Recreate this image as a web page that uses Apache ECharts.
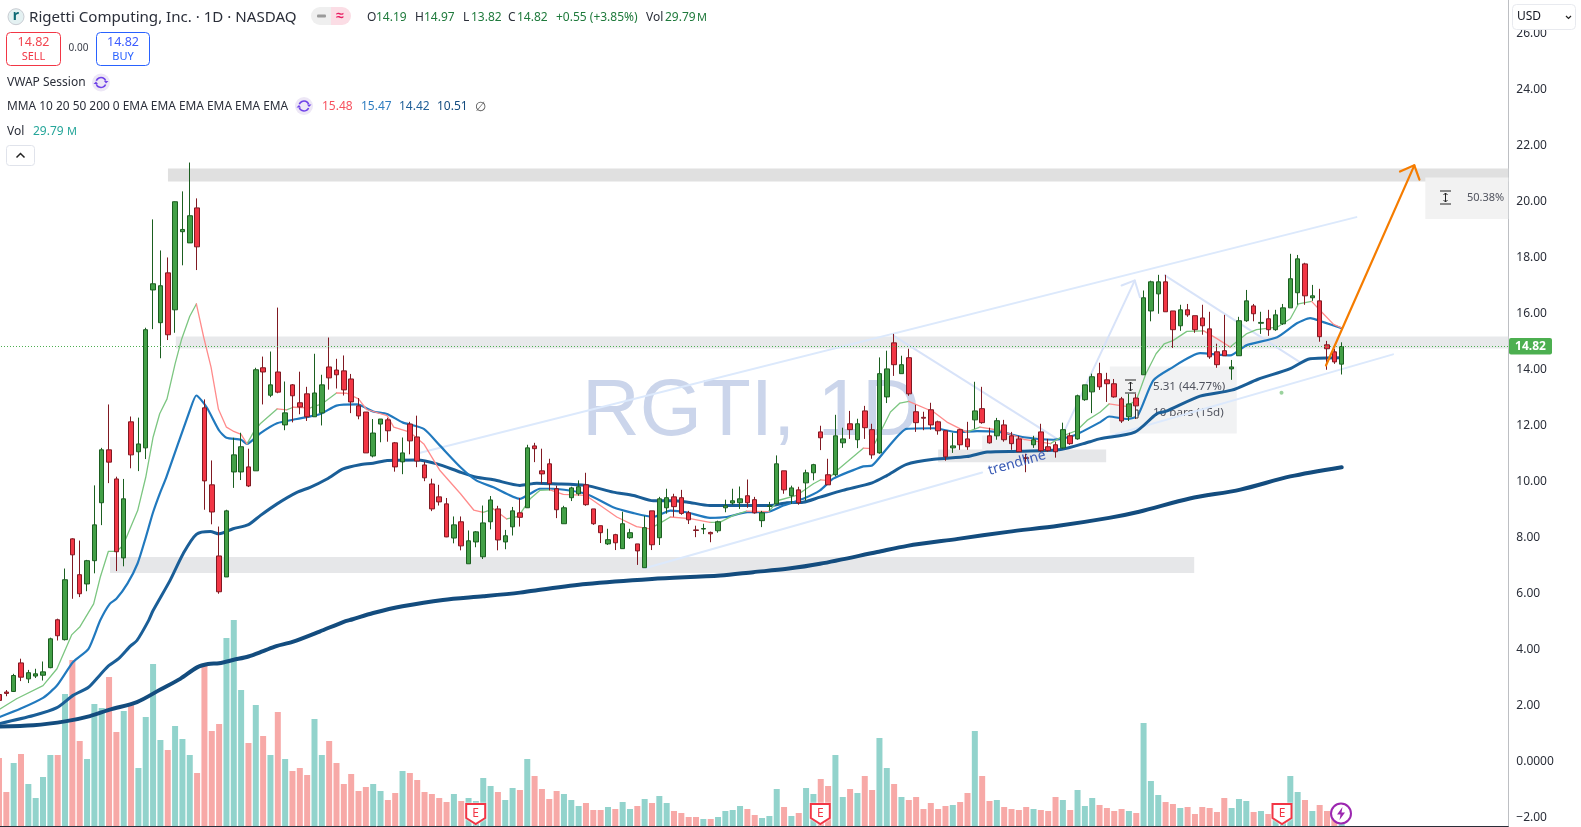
<!DOCTYPE html>
<html><head><meta charset="utf-8">
<style>html,body{margin:0;padding:0;background:#fff;overflow:hidden}#c{width:1581px;height:827px}</style>
<script src="https://cdn.jsdelivr.net/npm/echarts@6/dist/echarts.min.js"></script>
</head><body><div id="c"></div>
<script>
// Daily candles, index 0..183
const opens=[2.39,2.48,2.50,3.52,2.95,3.05,3.08,3.35,5.06,4.35,
7.95,6.67,6.34,7.17,9.24,11.13,10.09,7.27,12.13,11.06,
11.20,16.84,15.67,17.45,16.13,18.92,18.52,19.77,12.63,9.88,
7.34,6.59,10.34,10.34,10.52,10.38,14.06,13.08,13.91,12.02,
13.45,12.81,13.13,12.31,12.45,14.09,13.98,13.95,13.66,12.70,
12.48,10.91,12.05,12.20,11.38,10.70,12.05,11.59,10.59,9.91,
9.45,9.20,7.98,8.56,7.06,7.84,7.31,8.56,9.02,7.84,
8.38,8.88,9.06,11.27,10.38,10.63,9.74,8.49,9.42,9.56,
9.88,9.02,8.42,7.77,8.10,7.60,7.99,7.77,6.92,8.95,
7.99,9.06,9.45,9.42,8.88,8.27,8.30,8.18,8.24,9.06,
9.23,9.24,9.49,9.35,8.60,9.11,9.20,10.38,9.49,9.70,
9.95,10.31,11.77,10.24,10.24,11.38,12.06,11.49,12.52,11.85,
11.02,13.02,14.95,13.85,14.42,12.49,12.29,12.56,12.13,11.81,
11.20,11.85,11.52,12.20,12.60,11.63,11.63,12.02,11.63,11.52,
10.85,11.31,11.77,11.24,11.31,11.20,11.63,11.52,12.92,13.20,
13.85,13.63,13.49,12.95,12.31,12.98,13.81,16.09,16.70,17.13,
16.09,15.56,16.13,15.92,15.84,15.45,14.63,14.67,14.02,14.49,
15.74,16.27,15.65,15.81,15.42,15.63,16.20,16.74,17.77,16.56,
16.45,14.88,14.63,14.19];
const highs=[2.45,2.55,3.13,3.67,3.27,3.31,3.57,4.42,5.10,6.89,
7.97,7.89,7.20,9.86,11.20,12.75,10.17,10.09,12.32,12.28,
15.49,19.36,18.25,18.00,20.00,20.36,21.39,20.11,12.93,10.75,
8.39,8.99,11.56,11.74,11.17,14.06,14.46,14.64,16.21,13.57,
13.48,13.92,13.38,14.56,13.81,15.14,14.38,14.50,13.84,12.98,
12.48,12.23,12.23,12.27,11.41,11.57,12.13,12.35,10.70,10.10,
9.88,9.41,8.75,8.75,8.25,8.23,9.14,9.48,9.13,8.27,
9.09,9.41,11.31,11.38,11.17,10.81,9.85,9.13,9.81,10.04,
10.31,9.02,8.42,8.31,8.13,8.92,8.31,7.77,8.77,8.95,
9.45,9.74,9.56,9.70,8.95,8.42,8.49,8.21,8.60,9.35,
9.74,9.82,10.07,9.45,8.95,9.27,10.93,10.38,9.85,9.81,
10.42,10.63,11.99,10.81,12.38,11.92,12.52,12.24,12.70,12.06,
14.43,14.67,15.27,14.49,14.74,12.74,12.49,12.81,12.17,11.81,
11.74,11.88,12.13,13.56,13.38,11.92,12.27,12.20,11.77,11.63,
10.99,11.63,12.06,11.52,11.42,12.10,11.74,13.10,13.45,13.85,
14.24,13.88,13.66,13.02,13.13,13.13,16.82,17.17,17.38,17.38,
16.09,16.31,16.34,15.92,16.31,16.06,14.92,15.95,14.34,15.88,
16.84,16.34,16.06,16.13,16.13,16.34,18.13,18.09,17.81,17.02,
16.88,15.02,14.74,14.97];
const lows=[2.10,2.33,2.48,2.87,2.80,2.98,2.89,3.33,4.32,4.32,
5.81,5.87,6.08,6.72,8.44,9.94,6.80,6.97,10.47,10.37,
10.80,15.44,14.40,15.05,15.31,17.72,18.52,17.55,8.99,8.47,
5.99,6.59,9.77,10.05,9.80,10.38,12.75,13.01,13.15,11.83,
12.11,12.40,12.16,12.31,12.00,13.28,13.32,13.07,12.44,12.22,
11.02,10.86,11.40,11.42,10.35,10.26,10.97,10.51,10.01,8.94,
9.14,8.01,7.79,7.54,7.06,7.65,7.23,8.29,7.54,7.58,
8.07,8.39,9.06,10.69,9.92,9.68,8.69,8.49,9.30,9.49,
9.13,8.45,7.80,7.73,7.55,7.60,7.95,7.02,6.92,7.55,
7.73,8.85,8.74,8.81,8.48,8.01,8.12,7.83,8.17,8.90,
9.17,9.02,9.06,8.85,8.37,8.96,9.20,9.56,9.20,9.17,
9.32,10.04,11.12,9.88,10.18,11.20,11.52,11.19,11.52,10.81,
10.99,12.80,13.77,13.85,13.06,11.77,11.83,11.85,11.67,10.74,
11.02,11.13,11.13,11.88,12.06,11.35,11.49,11.42,11.13,11.06,
10.33,11.20,11.06,11.06,10.85,11.17,11.31,11.49,12.88,12.44,
13.27,12.84,12.99,12.09,12.16,12.23,13.81,15.72,15.99,16.06,
14.77,15.38,15.88,15.31,15.24,14.38,14.06,14.49,13.63,14.49,
15.70,15.72,15.27,15.20,15.38,15.59,16.20,16.31,16.31,16.45,
14.99,13.99,14.20,13.82];
const closes=[2.18,2.43,3.07,3.01,3.17,3.13,3.20,4.38,4.49,6.49,
7.38,5.99,7.17,8.45,11.13,10.69,7.49,9.38,10.95,11.34,
15.42,17.06,16.99,15.24,19.99,19.00,19.49,18.38,10.02,8.91,
6.06,8.95,10.95,11.24,9.84,13.99,13.91,13.45,13.19,12.45,
13.06,12.66,12.31,13.16,13.45,13.70,13.81,13.27,12.84,12.34,
11.02,11.73,12.23,11.81,10.52,11.02,11.45,10.73,10.13,9.02,
9.27,8.02,8.45,7.70,7.88,8.20,8.52,9.34,7.91,8.06,
8.95,8.72,11.20,11.17,10.27,9.92,8.99,9.06,9.77,9.81,
9.17,8.49,8.17,7.92,7.81,8.49,8.17,7.52,8.35,7.74,
9.38,9.42,9.10,8.86,8.63,8.25,8.32,8.13,8.56,9.13,
9.31,9.38,9.24,8.88,8.88,9.13,10.63,9.70,9.77,9.24,
10.31,10.60,11.56,9.88,11.63,11.52,11.85,12.06,11.92,10.95,
13.85,14.02,14.17,14.17,13.13,12.10,12.26,12.02,11.81,10.88,
11.27,11.31,11.24,12.52,12.10,11.38,12.17,11.49,11.35,11.06,
10.82,11.49,11.10,11.10,11.06,11.85,11.35,13.06,13.45,13.74,
13.38,13.49,13.02,12.16,12.77,12.70,16.56,17.13,17.13,16.06,
15.42,16.13,15.95,15.42,15.56,14.45,14.17,14.49,14.09,15.74,
16.45,15.99,15.68,15.42,15.95,16.20,17.24,17.95,16.63,16.63,
15.17,14.74,14.27,14.82];
// Volume in millions
const volumes=[136,68,126,144,84,56,98,142,142,264,
332,170,134,244,236,298,188,230,242,116,
218,324,172,152,200,174,142,106,320,190,
204,376,412,272,166,242,180,142,228,134,
110,116,102,214,142,170,126,84,104,70,
78,84,70,52,66,110,106,92,68,64,
56,48,64,50,56,50,96,80,68,52,
76,72,134,100,74,54,70,64,52,40,
46,32,32,38,34,48,34,40,54,46,
60,46,30,26,18,18,14,14,18,30,
32,40,34,22,16,20,74,38,20,26,
76,64,94,80,142,58,74,66,100,72,
176,116,84,58,52,58,34,46,34,40,
42,48,66,190,100,50,52,38,34,32,
38,34,32,30,58,52,32,72,40,56,
42,36,30,34,30,26,206,90,62,48,
44,36,38,24,38,36,28,56,36,54,
50,28,30,24,32,44,100,68,52,30,
42,30,24,29.79];
// Moving-average readings: [bar index, price]
const ma10Points=[[0,1.85],[2.4,2.24],[6,2.71],[7.9,3.31],[9.9,4.52],[11,4.80],[12.9,5.63],[13.8,6.58],[14.9,7.50],[16,7.50],[16.9,7.71],[18.9,8.96],[20,10.15],[21,11.58],[21.9,12.42],[22.9,12.95],[24,14.20],[24.9,15.09],[26,15.90],[26.9,16.34],[27.9,15.15],[28.9,14.08],[29.9,12.59],[31,11.94],[31.9,11.80],[33,11.68],[33.8,11.34],[34.7,11.76],[35.6,12.06],[37.9,12.59],[39.2,12.56],[40.1,12.65],[42.4,12.63],[44,12.77],[46,13.16],[47.4,13.15],[49,12.95],[50.1,12.57],[52.9,12.35],[53.8,11.94],[56,11.76],[57.9,11.34],[60.1,10.39],[62.9,9.56],[64.7,8.98],[66,8.90],[67.4,9.02],[69.2,8.66],[70.8,8.75],[72.4,9.38],[73.7,9.68],[75.1,9.70],[76.9,9.54],[80,9.50],[84.2,8.73],[86.9,8.39],[88.7,8.31],[90.1,8.51],[91.5,8.73],[94.2,8.67],[96.9,8.54],[98.3,8.55],[100.1,8.79],[101.9,8.94],[104.9,8.92],[106.2,9.32],[108.7,9.50],[111,9.92],[112,10.06],[112.8,10.04],[114.2,10.39],[117.8,11.19],[119,11.17],[121.5,12.48],[122.8,12.80],[124,12.86],[127.4,12.48],[129.2,12.12],[131.9,11.76],[133.7,11.94],[136.5,11.82],[139.7,11.50],[143.3,11.35],[145.1,11.64],[146.9,11.82],[148.3,12.18],[150.1,12.48],[151.3,12.77],[153.6,12.68],[155,12.89],[156.3,13.84],[157.7,14.56],[158.8,14.91],[160,15.03],[161.9,15.36],[164.2,15.38],[166,15.10],[167.8,14.80],[170,15.27],[171.4,15.42],[174.2,15.51],[176,15.81],[177.1,16.34],[178.9,16.43],[180.5,15.99],[181.9,15.61],[183,15.48]];
const ma20Points=[[0,1.58],[2.9,1.88],[6,2.27],[7.9,2.71],[10.1,3.55],[12.2,4.02],[13.8,5.04],[15.1,5.63],[16,5.81],[17.5,6.35],[18.9,7.08],[20,8.00],[21,8.90],[21.9,9.56],[22.8,10.15],[26,12.53],[26.9,13.07],[28.3,12.65],[30,11.82],[31,11.56],[33,11.49],[33.8,11.34],[35.6,11.72],[37.9,12.08],[40.6,12.23],[43.8,12.41],[46,12.71],[48.8,12.75],[51,12.50],[52.9,12.41],[55,12.11],[57.9,11.88],[60.1,11.28],[62.9,10.51],[65.1,10.03],[67.4,9.79],[71,9.38],[72.4,9.56],[73.7,9.74],[75.5,9.74],[80,9.56],[83.7,9.08],[86.5,8.87],[89.2,8.73],[91.5,8.96],[93.7,8.90],[96.9,8.70],[99.2,8.73],[102,8.90],[104.6,8.90],[106.9,9.14],[109.6,9.38],[111.9,9.68],[113.7,10.10],[117.8,10.54],[119,10.57],[121,11.17],[123.7,11.88],[127.4,11.90],[130.6,11.76],[133.3,11.80],[136.5,11.76],[139.7,11.58],[143.7,11.49],[146.5,11.64],[150.1,12.12],[151.3,12.32],[153.8,12.23],[155.2,12.35],[157.3,13.60],[159.6,14.02],[163.7,14.58],[167.8,14.50],[170,14.86],[174.2,15.15],[176.9,15.65],[178.7,15.83],[180.5,15.69],[183,15.47]];
const ma50Points=[[0,1.35],[4.7,1.64],[7.9,1.92],[10.1,2.36],[12.2,2.65],[13.8,3.10],[15,3.43],[16.3,3.67],[17.9,4.12],[18.8,4.32],[20.4,5.04],[21,5.39],[23.3,6.46],[25.1,7.42],[26.9,8.11],[28.8,8.21],[30,8.13],[31.9,8.31],[34,8.46],[35.6,8.78],[37.9,9.20],[40.6,9.61],[42.4,9.79],[44.7,10.09],[46.9,10.45],[49.2,10.60],[51,10.65],[52.9,10.75],[57,10.77],[59.7,10.63],[62.9,10.33],[65.1,10.15],[67.4,10.06],[71,9.86],[73.3,9.94],[75.5,9.92],[80,9.86],[83.7,9.62],[86.5,9.50],[89.2,9.31],[91.5,9.31],[93.7,9.27],[96.9,9.14],[100.5,9.14],[105,9.14],[107.4,9.24],[109.6,9.26],[111.9,9.44],[115,9.68],[119,9.95],[121,10.21],[123.7,10.61],[127.4,10.79],[131.9,10.89],[134.7,11.05],[139.2,11.08],[144.7,11.14],[148.7,11.42],[150,11.52],[154.8,11.76],[157.8,12.42],[159,12.50],[163.7,13.05],[168,13.26],[171.6,13.65],[175.9,14.02],[178.7,14.38],[183,14.42]];
const ma200Points=[[0,1.25],[4.7,1.29],[9.2,1.44],[12.4,1.62],[15.1,1.85],[18.8,2.12],[22,2.57],[24.7,2.95],[27,3.36],[28.5,3.48],[30,3.51],[32,3.63],[34,3.75],[36,3.94],[37.8,4.12],[40,4.27],[43.7,4.64],[46.9,4.98],[48.2,5.08],[51,5.30],[55,5.54],[60.5,5.77],[66,5.90],[71,6.03],[72.8,6.10],[80,6.34],[89,6.52],[98.3,6.64],[102.8,6.76],[107.4,6.88],[111.9,7.06],[119.7,7.48],[123.8,7.70],[130.7,7.95],[137.5,8.20],[144.4,8.42],[151.3,8.70],[155.4,8.92],[162.3,9.39],[169.2,9.71],[176,10.18],[183,10.51]];
// Drawings, in [bar index, price]
const channelUpper=[[57,11.0],[185,19.44]];
const channelLowerA=[[87.9,6.89],[134,10.32]];
const channelLowerB=[[143,10.99],[190,14.54]];
const zigzagUp=[[121.9,15.21],[144.6,11.46],[154.8,17.18]];
const zigzagHead=[[153,17.0],[154.8,17.18],[155.5,16.58]];
const zigzagDown=[[158.9,17.36],[177.3,14.26]];
const targetArrow=[[180.86,14.14],[192.9,21.29]];
const targetHead=[[190.95,21.07],[192.9,21.29],[193.6,20.78]];
const noteDot=[[174.8,13.17]];
// Shaded zones: [from bar, top price, to bar, bottom price, colour]
const zones=[[23.03,21.18,205.71,20.71,'#E0E0E0'],[24.1,15.18,205.71,14.75,'#E8E9EB'],[15.13,7.30,162.9,6.73,'#E6E7E9'],
[128,11.14,150.9,10.69,'#E6E7E9'],[134,11.64,141.9,11.14,'#F0F1F3'],[151.4,14.11,168.7,11.71,'#F1F2F3'],[194.4,20.86,205.71,19.37,'#F2F2F2']];
const priceTicks=[-2,0,2,4,6,8,10,12,14,16,18,20,22,24,26];
const lastPrice=14.82;

const UI='"Noto Sans",sans-serif';
const candleData=opens.map((o,i)=>[i,o,closes[i],lows[i],highs[i]]);
const volData=volumes.map((v,i)=>({value:[i,v],itemStyle:{color:closes[i]>=opens[i]?'#92D3CC':'#F7A9A7'}}));
const ma10Up=[],ma10Down=[];
for(let k=0;k<ma10Points.length-1;k++){
  const a=ma10Points[k],b=ma10Points[k+1],t=b[1]>=a[1]?ma10Up:ma10Down;
  t.push(a,b,[b[0],'-']);
}
const X0=-0.5452,X1=205.71;
function line(data,color,width,z,extra){return Object.assign({type:'line',data,xAxisIndex:0,yAxisIndex:0,showSymbol:false,symbol:'none',silent:true,z,lineStyle:{color,width,cap:'round',join:'round'},connectNulls:false},extra||{});}
function T(x,y,text,o){o=o||{};return {type:'text',z:o.z||100,x,y:y+1,silent:true,style:{text,fill:o.c||'#2A2E39',font:(o.w||'normal')+' '+(o.s||12)+'px '+(o.f||UI),textAlign:o.a||'left',textVerticalAlign:'middle'}};}
function R(x,y,w,h,o){return {type:'rect',z:o.z||100,silent:true,shape:{x,y,width:w,height:h,r:o.r||0},style:{fill:o.fill||'transparent',stroke:o.stroke,lineWidth:o.lw||1}};}
function L(x1,y1,x2,y2,c,lw,z){return {type:'line',z:z||100,silent:true,shape:{x1,y1,x2,y2},style:{stroke:c,lineWidth:lw||1}};}
function sync(cx,cy){return [
 {type:'circle',z:100,silent:true,shape:{cx,cy,r:9},style:{fill:'#EDE7F6'}},
 {type:'arc',z:101,silent:true,shape:{cx,cy,r:5,startAngle:3.5,endAngle:5.9},style:{stroke:'#6F42E8',lineWidth:1.6,fill:'none'}},
 {type:'arc',z:101,silent:true,shape:{cx,cy,r:5,startAngle:0.4,endAngle:2.8},style:{stroke:'#6F42E8',lineWidth:1.6,fill:'none'}},
 {type:'polygon',z:101,silent:true,shape:{points:[[cx+3,cy-1.5],[cx+7.5,cy-1.5],[cx+5,cy+1]]},style:{fill:'#6F42E8'}},
 {type:'polygon',z:101,silent:true,shape:{points:[[cx-3,cy+1.5],[cx-7.5,cy+1.5],[cx-5,cy-1]]},style:{fill:'#6F42E8'}}];}
function measureIcon(cx,y1,y2,z){return [L(cx-5.5,y1,cx+5.5,y1,'#222',1,z),L(cx-5.5,y2,cx+5.5,y2,'#222',1,z),L(cx,y1+2,cx,y2-2,'#222',1,z),
 {type:'polyline',z,silent:true,shape:{points:[[cx-2,y1+4],[cx,y1+2],[cx+2,y1+4]]},style:{stroke:'#222',fill:'none'}},
 {type:'polyline',z,silent:true,shape:{points:[[cx-2,y2-4],[cx,y2-2],[cx+2,y2-4]]},style:{stroke:'#222',fill:'none'}}];}
function earn(cx){return [
 {type:'polygon',z:90,silent:true,shape:{points:[[cx-9.5,804],[cx+9.5,804],[cx+9.5,818],[cx,824],[cx-9.5,818]]},style:{fill:'#fff',stroke:'#F23645',lineWidth:2,shadowColor:'#fff',shadowBlur:2}},
 T(cx,812.5,'E',{c:'#F23645',s:12,a:'center',z:91})];}

const G=[
 {type:'text',z:0,x:582,y:413,silent:true,style:{text:'RGTI, 1D',fill:'#CBD5EB',font:'normal 80px "Liberation Sans",Arial,sans-serif',textVerticalAlign:'middle'}},
 // logo + title
 {type:'circle',z:100,silent:true,shape:{cx:16,cy:16.7,r:8},style:{fill:'#E4F1F2',stroke:'#C9CDD3'}},
 T(16,15.5,'r',{c:'#0E6A75',s:14,w:'bold',a:'center'}),
 T(29,16.5,'Rigetti Computing, Inc. · 1D · NASDAQ',{s:15.1}),
 R(311,7,20,18,{fill:'#EFEFEF',r:[9,0,0,9]}),R(331,7,20,18,{fill:'#FBDDE5',r:[0,9,9,0]}),
 R(317,14.5,9,3,{fill:'#9A9A9A',r:1}),T(340,15,'≈',{c:'#E91E63',s:14,a:'center',w:'bold'}),
 T(367,16.5,'O',{}),T(376,16.5,'14.19',{c:'#1F7A3C'}),T(415,16.5,'H',{}),T(424,16.5,'14.97',{c:'#1F7A3C'}),
 T(463,16.5,'L',{}),T(471,16.5,'13.82',{c:'#1F7A3C'}),T(508,16.5,'C',{}),T(517,16.5,'14.82',{c:'#1F7A3C'}),
 T(556,16.5,'+0.55 (+3.85%)',{c:'#1F7A3C'}),T(646,16.5,'Vol',{}),T(665,16.5,'29.79',{c:'#1F7A3C'}),T(697,16.5,'M',{c:'#1F7A3C',s:11}),
 // sell / buy
 R(6.5,32.5,54,33,{stroke:'#F23645',r:4,fill:'#fff'}),T(33.5,41,'14.82',{c:'#F2454F',s:12.5,a:'center'}),T(33.5,55.5,'SELL',{c:'#F23645',s:11,a:'center'}),
 T(78.5,47.5,'0.00',{c:'#3A3E49',s:10,a:'center'}),
 R(96.5,32.5,53,33,{stroke:'#2962FF',r:4,fill:'#fff'}),T(123,41,'14.82',{c:'#3B5BFF',s:12.5,a:'center'}),T(123,55.5,'BUY',{c:'#2962FF',s:11,a:'center'}),
 // legend rows
 T(7,82,'VWAP Session',{s:12}),...sync(101,82.5),
 T(7,106,'MMA 10 20 50 200 0 EMA EMA EMA EMA EMA EMA',{s:11.9}),...sync(304,106),
 T(322,106,'15.48',{c:'#F7525F'}),T(361,106,'15.47',{c:'#2E7DC0'}),T(399,106,'14.42',{c:'#1F5F98'}),T(437,106,'10.51',{c:'#144C7F'}),T(475,106,'∅',{c:'#555',s:13}),
 T(7,130.5,'Vol',{s:12}),T(33,130.5,'29.79',{c:'#26A69A'}),T(67,130.5,'M',{c:'#26A69A',s:11}),
 R(6.5,145.5,28,20,{stroke:'#E0E3EB',r:3,fill:'#fff'}),
 {type:'polyline',z:101,silent:true,shape:{points:[[16.5,157.5],[20.5,153.5],[24.5,157.5]]},style:{stroke:'#222',lineWidth:1.5,fill:'none'}},
 // measure boxes
 ...measureIcon(1130.5,380,393,2),T(1153,385.5,'5.31 (44.77%)',{c:'#50535E',s:11.6,z:2}),T(1153,411.5,'10 bars (15d)',{c:'#50535E',s:11.6,z:2}),
 R(1135.5,410,2.5,8,{stroke:'#333',fill:'#fff',z:12}),
 ...measureIcon(1445.5,191,204,8),T(1467,196.5,'50.38%',{c:'#50535E',s:11,z:8}),
 {type:'text',z:8,x:1017,y:463,rotation:0.277,silent:true,style:{text:'trendline',fill:'#3A5BB5',font:'normal 14px '+UI,textAlign:'center',textVerticalAlign:'middle'}},
 // price tag & currency box
 R(1509,338,43,16.5,{fill:'#4CAF50',r:2}),T(1530.5,345.5,'14.82',{c:'#fff',s:12,a:'center',w:'bold'}),
 R(1510,0,71,30,{fill:'#fff'}),
 R(1512.5,4.5,63,25,{stroke:'#E8EAEF',fill:'#fff',r:4}),T(1517,15.5,'USD',{s:12,c:'#131722'}),
 {type:'polyline',z:101,silent:true,shape:{points:[[1566,16],[1568.5,18.5],[1571,16]]},style:{stroke:'#222',lineWidth:1.2,fill:'none'}},
 // event badges
 ...earn(475.7),...earn(820.3),...earn(1282),
 {type:'circle',z:90,silent:true,shape:{cx:1341,cy:813.5,r:10},style:{fill:'#fff',stroke:'#9C27B0',lineWidth:2}},
 {type:'polygon',z:91,silent:true,shape:{points:[[1342.5,807],[1337,814.5],[1340.5,814.5],[1339.5,820],[1345,812.5],[1341.5,812.5]]},style:{fill:'#9C27B0'}}
];

const chart=echarts.init(document.getElementById('c'),null,{width:1581,height:827});
chart.setOption({
 animation:false,backgroundColor:'#fff',
 grid:[{left:-5,top:0,width:1513.3,height:826,outerBoundsMode:'none'},{left:-5,top:620,width:1513.3,height:206,outerBoundsMode:'none'}],
 xAxis:[
  {type:'value',gridIndex:0,min:X0,max:X1,show:false},
  {type:'value',gridIndex:1,min:X0,max:X1,axisLine:{show:true,onZero:false,lineStyle:{color:'#2A2E39',width:1}},axisTick:{show:false},axisLabel:{show:false},splitLine:{show:false}}
 ],
 yAxis:[
  {type:'value',gridIndex:0,position:'right',min:-2.305,max:27.195,
   axisLine:{show:true,onZero:false,lineStyle:{color:'#BDBFC3',width:1}},axisTick:{show:false},splitLine:{show:false},
   axisLabel:{margin:8,align:'left',color:'#2A2E39',fontSize:12,fontFamily:'"Noto Sans",sans-serif',customValues:priceTicks,padding:[2,0,0,0],
    formatter:v=>v===0?'0.0000':(v<0?'−':'')+Math.abs(v).toFixed(2)}},
  {type:'value',gridIndex:1,min:0,max:412,show:false}
 ],
 series:[
  {type:'line',data:[],z:1,silent:true,xAxisIndex:0,yAxisIndex:0,
   markArea:{silent:true,z:1,data:zones.map(d=>[{coord:[d[0],d[1]],itemStyle:{color:d[4],opacity:1}},{coord:[d[2],d[3]]}])}},
  {type:'bar',name:'Vol',data:volData,xAxisIndex:1,yAxisIndex:1,barWidth:6,z:3,silent:true},
  line(channelUpper,'#DCE9FC',2,3),line(channelLowerA,'#DCE9FC',2,3),line(channelLowerB,'#DCE9FC',2,3),
  line(zigzagUp,'#D8E3F9',2,3),line(zigzagHead,'#D8E3F9',2,3),line(zigzagDown,'#D8E3F9',2,3),
  line(ma200Points,'#134C7E',4,4,{smooth:0.3}),line(ma50Points,'#1A5E97',3,4,{smooth:0.25}),line(ma20Points,'#2179BE',2.2,4,{smooth:0.2}),
  line(ma10Up,'#7CC681',1.3,4),line(ma10Down,'#FF8B8B',1.3,4),
  {type:'candlestick',data:candleData,xAxisIndex:0,yAxisIndex:0,barWidth:5,z:5,silent:true,encode:{x:0,y:[1,2,3,4]},
   itemStyle:{color:'#43A047',color0:'#F23645',borderColor:'#1B5E20',borderColor0:'#801922',borderWidth:1}},
  line([[X0,lastPrice],[X1,lastPrice]],'#4CAF50',1,6,{lineStyle:{color:'#4CAF50',width:1,type:[1,2]}}),
  line(targetArrow,'#F57C00',2.2,7),line(targetHead,'#F57C00',2.2,7),
  {type:'scatter',data:noteDot,symbolSize:4,itemStyle:{color:'#81C784'},z:3,silent:true,xAxisIndex:0,yAxisIndex:0}
 ],
 graphic:{elements:G}
});
</script></body></html>
